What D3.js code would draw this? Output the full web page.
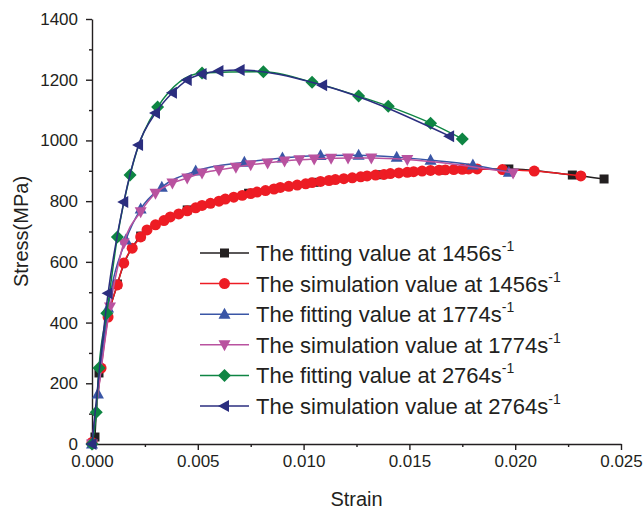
<!DOCTYPE html>
<html>
<head>
<meta charset="utf-8">
<script src="https://cdn.jsdelivr.net/npm/d3@7"></script>
<style>
  body { margin: 0; background: #fff; }
  svg text { font-family: "Liberation Sans", Arial, sans-serif; fill: #231f20; }
</style>
</head>
<body>
<div id="chart"></div>
<script>
// values: [strain, stress MPa]
const fit1456 = [[0.00014, 23], [0.00033, 234], [0.0012, 527], [0.0023, 685], [0.0045, 771], [0.0074, 826],
  [0.0105, 862], [0.0136, 887], [0.0166, 902], [0.0197, 906], [0.0227, 886], [0.0242, 873]];
const sim1456 = [[0, 5], [0.00043, 250], [0.00076, 418], [0.0012, 524], [0.0015, 596], [0.0019, 645], [0.0023, 682],
  [0.0026, 705], [0.0030, 722], [0.0034, 736], [0.0037, 748], [0.0041, 758], [0.0045, 768], [0.0049, 778],
  [0.0052, 786], [0.0056, 793], [0.0060, 800], [0.0063, 807], [0.0067, 813], [0.0071, 819], [0.0075, 825],
  [0.0078, 830], [0.0082, 835], [0.0086, 840], [0.0089, 845], [0.0093, 849], [0.0097, 853], [0.0101, 857],
  [0.0104, 861], [0.0108, 865], [0.0112, 868], [0.0115, 871], [0.0119, 874], [0.0123, 877], [0.0127, 880],
  [0.0130, 883], [0.0134, 886], [0.0138, 888], [0.0141, 891], [0.0145, 893], [0.0149, 895], [0.0152, 897],
  [0.0156, 899], [0.0160, 901], [0.0164, 902], [0.0167, 903], [0.0171, 904], [0.0175, 905], [0.0178, 906],
  [0.0182, 906], [0.0194, 904], [0.0209, 899], [0.0231, 883]];
const fit1774 = [[0, 0], [0.00028, 165], [0.00076, 448], [0.0016, 672], [0.0023, 774], [0.0033, 846], [0.0049, 899],
  [0.0072, 928], [0.0090, 942], [0.0108, 950], [0.0126, 951], [0.0144, 945], [0.0160, 935], [0.0180, 919], [0.0197, 895]];
const sim1774 = [[0, 0], [0.00085, 451], [0.0015, 662], [0.0023, 765], [0.0030, 826], [0.0038, 860], [0.0045, 876],
  [0.0052, 893], [0.0060, 903], [0.0068, 912], [0.0075, 920], [0.0083, 926], [0.0091, 932], [0.0098, 936],
  [0.0105, 939], [0.0113, 941], [0.0121, 942], [0.0132, 942], [0.0149, 937], [0.0199, 893]];
const fit2764 = [[0, 0], [0.0002, 105], [0.00033, 250], [0.0007, 431], [0.0012, 682], [0.0018, 886], [0.0031, 1110],
  [0.0052, 1222], [0.0081, 1226], [0.0104, 1192], [0.0126, 1146], [0.0140, 1113], [0.0160, 1057], [0.0175, 1005]];
const sim2764 = [[0, 0], [0.00076, 497], [0.0015, 797], [0.0022, 985], [0.0030, 1090], [0.0038, 1157], [0.0045, 1199],
  [0.0052, 1219], [0.0060, 1229], [0.0070, 1232], [0.0109, 1182], [0.0169, 1014]];

const rates = ["1456", "1456", "1774", "1774", "2764", "2764"];
const kinds = ["fitting", "simulation", "fitting", "simulation", "fitting", "simulation"];
const xTicks = [0, 0.005, 0.010, 0.015, 0.020, 0.025];
const yTicks = [0, 200, 400, 600, 800, 1000, 1200, 1400];

const series = [
  { data: fit1456, color: "#231f20", symbol: "square" },
  { data: sim1456, color: "#ed1c24", symbol: "circle" },
  { data: fit1774, color: "#3a56a6", symbol: "up" },
  { data: sim1774, color: "#b9529f", symbol: "down" },
  { data: fit2764, color: "#0e8543", symbol: "diamond" },
  { data: sim2764, color: "#2b2e7f", symbol: "left" }
];

const width = 644, height = 515;
const margin = { top: 19, right: 23, bottom: 71, left: 92 };

const x = d3.scaleLinear().domain([0, 0.025]).range([margin.left, width - margin.right]);
const y = d3.scaleLinear().domain([0, 1400]).range([height - margin.bottom, margin.top]);

const svg = d3.select("#chart").append("svg")
  .attr("width", width)
  .attr("height", height);

// Marker paths
function markerPath(sym) {
  switch (sym) {
    case "square": return "M-4.5,-4.5H4.5V4.5H-4.5Z";
    case "circle": return d3.symbol(d3.symbolCircle, 95)();
    case "up": return "M0,-6.5L6,4.5L-6,4.5Z";
    case "down": return "M0,6.5L6,-4.5L-6,-4.5Z";
    case "diamond": return "M0,-6.5L6.5,0L0,6.5L-6.5,0Z";
    case "left": return "M-6.5,0L4.5,-6L4.5,6Z";
  }
}

// Axes
const axisColor = "#231f20";
svg.append("g")
  .attr("transform", `translate(0,${y(0)})`)
  .call(d3.axisBottom(x).tickValues(xTicks).tickFormat(d3.format(".3f")).tickSize(6).tickSizeOuter(0).tickPadding(5));
const xMinor = svg.append("g")
  .attr("transform", `translate(0,${y(0)})`)
  .call(d3.axisBottom(x).tickValues([0.0025, 0.0075, 0.0125, 0.0175, 0.0225]).tickFormat("").tickSize(3).tickSizeOuter(0));
xMinor.select(".domain").remove();

svg.append("g")
  .attr("transform", `translate(${x(0)},0)`)
  .call(d3.axisLeft(y).tickValues(yTicks).tickFormat(d3.format("d")).tickSize(6).tickSizeOuter(0).tickPadding(8));
const yMinor = svg.append("g")
  .attr("transform", `translate(${x(0)},0)`)
  .call(d3.axisLeft(y).tickValues([100, 300, 500, 700, 900, 1100, 1300]).tickFormat("").tickSize(3).tickSizeOuter(0));
yMinor.select(".domain").remove();

svg.selectAll(".domain, .tick line").attr("stroke", axisColor).attr("stroke-width", 1.4);
svg.selectAll(".tick text").attr("font-size", 17).style("font-family", "Liberation Sans, Arial, sans-serif").attr("fill", axisColor);

svg.append("text")
  .attr("x", (x(0) + x(0.025)) / 2)
  .attr("y", 506)
  .attr("text-anchor", "middle")
  .attr("font-size", 20)
  .text("Strain");

svg.append("text")
  .attr("transform", `translate(28,${(y(0) + y(1400)) / 2}) rotate(-90)`)
  .attr("text-anchor", "middle")
  .attr("font-size", 20)
  .text("Stress(MPa)");

// Curves and markers
const line = d3.line()
  .x(d => x(d[0]))
  .y(d => y(d[1]))
  .curve(d3.curveMonotoneX);

series.forEach(s => {
  svg.append("path")
    .attr("d", line(s.data))
    .attr("fill", "none")
    .attr("stroke", s.color)
    .attr("stroke-width", 1.5);
  svg.append("g").selectAll("path")
    .data(s.data)
    .join("path")
    .attr("d", markerPath(s.symbol))
    .attr("transform", d => `translate(${x(d[0])},${y(d[1])})`)
    .attr("fill", s.color);
});

// Legend
const legend = svg.append("g");
series.forEach((s, i) => {
  const ly = 253 + i * 30.6;
  legend.append("line")
    .attr("x1", 200).attr("x2", 249)
    .attr("y1", ly).attr("y2", ly)
    .attr("stroke", s.color).attr("stroke-width", 1.5);
  legend.append("path")
    .attr("d", markerPath(s.symbol))
    .attr("transform", `translate(224.5,${ly})`)
    .attr("fill", s.color);
  const t = legend.append("text")
    .attr("x", 256)
    .attr("y", ly + 8)
    .attr("font-size", 22);
  t.append("tspan").text(`The ${kinds[i]} value at ${rates[i]}s`);
  t.append("tspan").attr("font-size", 14).attr("dy", -10).text("-1");
});
</script>
</body>
</html>
